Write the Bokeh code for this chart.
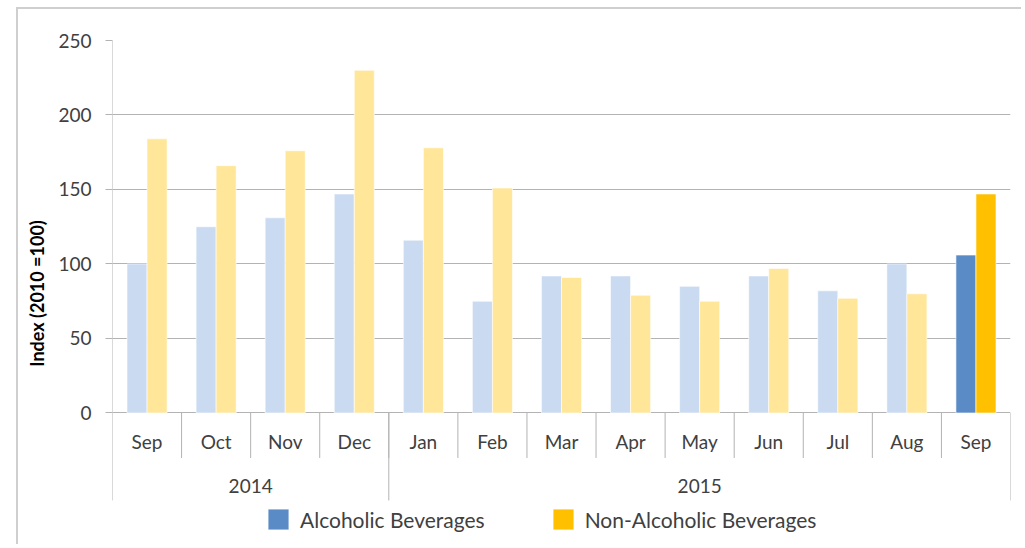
from bokeh.plotting import figure
from bokeh.models import (ColumnDataSource, Range1d, FixedTicker, Legend, LegendItem)
from bokeh.core.properties import value
from bokeh.embed import file_html
from bokeh.resources import INLINE

months = ["Sep", "Oct", "Nov", "Dec", "Jan", "Feb", "Mar", "Apr", "May", "Jun", "Jul", "Aug", "Sep"]
years = ["2014", "2014", "2014", "2014", "2015", "2015", "2015", "2015", "2015", "2015", "2015", "2015", "2015"]
alcoholic = [100, 125, 131, 147, 116, 75, 92, 92, 85, 92, 82, 100, 106]
non_alcoholic = [184, 166, 176, 230, 178, 151, 91, 79, 75, 97, 77, 80, 147]
y_ticks = [0, 50, 100, 150, 200, 250]

FONT = "Lato"
TXT = "#404040"
GRID = "#b3b3b3"
n = len(months)
xc = [i + 0.5 for i in range(n)]
off = 0.145
bw = 0.29

alc_colors = ["#c9daf1"] * (n - 1) + ["#5b8bc6"]
non_colors = ["#ffe699"] * (n - 1) + ["#ffc000"]

src = ColumnDataSource(dict(
    xa=[x - off for x in xc], xn=[x + off for x in xc],
    alc=alcoholic, non=non_alcoholic, ca=alc_colors, cn=non_colors))

Y_MAX = 250
Y_FRAME_BOTTOM = -89.6   # frame extends below to hold the legend
Y_AXIS_BOTTOM = -58.7    # category area bottom
p = figure(width=1005, height=537, output_backend="svg", toolbar_location=None,
           x_range=Range1d(0, n), y_range=Range1d(Y_FRAME_BOTTOM, Y_MAX),
           min_border_left=94, min_border_right=13, min_border_top=31, min_border_bottom=0)
p.margin = (7, 0, 0, 16)
p.styles = {"border-top": "2px solid #cfcfcf", "border-left": "2px solid #cfcfcf"}
p.outline_line_color = None
p.xaxis.visible = False
p.xgrid.visible = False
p.ygrid.ticker = FixedTicker(ticks=y_ticks)
p.ygrid.grid_line_color = GRID
p.yaxis.ticker = FixedTicker(ticks=y_ticks)
p.yaxis.major_tick_out = 7
p.yaxis.major_tick_in = 0
p.yaxis.minor_tick_line_color = None
p.yaxis.axis_line_color = None
p.yaxis.major_tick_line_color = GRID
p.yaxis.major_label_text_font = FONT
p.yaxis.major_label_text_font_size = "19px"
p.yaxis.major_label_text_color = TXT
p.yaxis.major_label_standoff = 14
p.yaxis.axis_label = "Index (2010 =100)"
p.yaxis.axis_label_text_font = FONT
p.yaxis.axis_label_text_font_size = "18px"
p.yaxis.axis_label_text_font_style = "bold"
p.yaxis.axis_label_text_color = "#000000"
p.yaxis.axis_label_standoff = 7

ra = p.vbar(x="xa", top="alc", bottom=0, width=bw, source=src, fill_color="ca", line_color="white", line_width=0.6)
rn = p.vbar(x="xn", top="non", bottom=0, width=bw, source=src, fill_color="cn", line_color="white", line_width=0.6)

# left value-axis line
p.segment(x0=[0], y0=[Y_MAX], x1=[0], y1=[0], line_color=GRID, line_width=1)

# category separators
month_label_y = -19.1
year_label_y = -49.3
month_sep_bottom = -30.2
p.segment(x0=list(range(1, n)), y0=[0] * (n - 1), x1=list(range(1, n)), y1=[month_sep_bottom] * (n - 1),
          line_color=GRID, line_width=1)
bounds = [0] + [i for i in range(1, n) if years[i] != years[i - 1]] + [n]
p.segment(x0=bounds, y0=[0] * len(bounds), x1=bounds, y1=[Y_AXIS_BOTTOM] * len(bounds),
          line_color=GRID, line_width=1)

p.text(x=xc, y=[month_label_y] * n, text=months, text_align="center", text_baseline="middle",
       text_font=value(FONT), text_font_size="19px", text_color=TXT)
yr_names = [years[b] for b in bounds[:-1]]
yr_x = [(bounds[i] + bounds[i + 1]) / 2 for i in range(len(bounds) - 1)]
p.text(x=yr_x, y=[year_label_y] * len(yr_x), text=yr_names, text_align="center", text_baseline="middle",
       text_font=value(FONT), text_font_size="19px", text_color=TXT)

legend = Legend(items=[LegendItem(label="Alcoholic Beverages", renderers=[ra], index=n - 1),
                       LegendItem(label="Non-Alcoholic Beverages", renderers=[rn], index=n - 1)],
                orientation="horizontal", location=(153, 14), glyph_width=26, glyph_height=26,
                label_text_font=FONT, label_text_font_size="21px", label_text_color=TXT,
                label_standoff=9, spacing=65, padding=4, margin=0, border_line_color=None,
                background_fill_alpha=0)
p.add_layout(legend, "center")

open("out.html", "w").write(file_html(p, INLINE))
